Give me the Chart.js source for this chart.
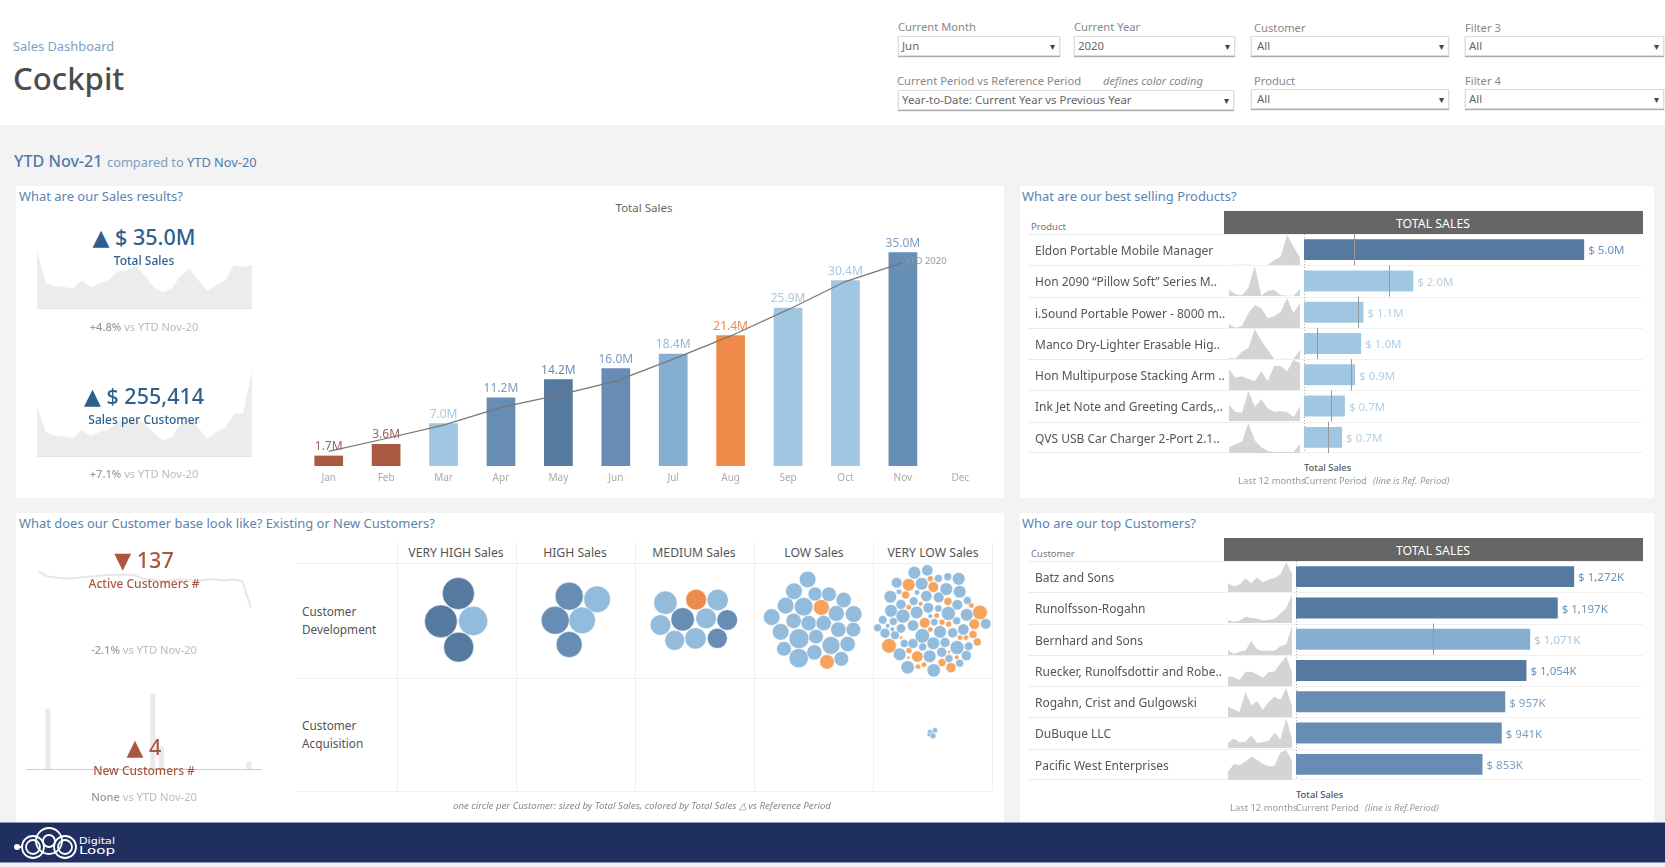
<!DOCTYPE html>
<html>
<head>
<meta charset="utf-8">
<title>Cockpit</title>
<script src="https://cdn.jsdelivr.net/npm/chart.js@4"></script>
<style>
    html, body { margin: 0; padding: 0; }
    body { position: relative; width: 1665px; height: 867px; overflow: hidden; background: #f3f3f3; font-family: "Noto Sans", sans-serif; color: #666; }
    .box { position: absolute; background: #fff; }
    .t { position: absolute; white-space: nowrap; transform: translateY(calc(-50% - 1px)); z-index: 2; }
    .c { transform: translate(-50%, calc(-50% - 1px)); }
    .sel { position: absolute; height: 20px; box-sizing: border-box; background: #fff; border: 1px solid #ddd; box-shadow: 0 1px 1px #aaa; font-size: 11.4px; line-height: 18px; padding-left: 3px; color: #666; }
    .sel::after { content: "\25BE"; position: absolute; right: 4px; top: 0; font-size: 10px; color: #444; }
    .flt { font-size: 11.2px; color: #888; }
    .h2 { font-size: 12.95px; color: #5b84ad; }
    .kpi { font-size: 21.5px; font-weight: 500; }
    .kpi span { font-family: "DejaVu Sans"; font-size: 22px; }
    .blue { color: #2f5f8f; }
    .red { color: #a9573f; }
    .sub { font-size: 12px; font-weight: 500; }
    .cmp { font-size: 11.1px; color: #bbb; }
    .cmp b { font-weight: 500; color: #999; }
    .colh { font-size: 12.2px; color: #555; }
    .rowh { font-size: 11.8px; color: #555; }
    .grid { position: absolute; background: #f0f0f0; }
    canvas { position: absolute; display: block; }
    .note { font-size: 9.4px; color: #999; }
    .cur { font-size: 9.1px; }
    .ttl { font-size: 12.3px; color: #fff; }
</style>
</head>
<body>

<!-- header -->
<div class="box" style="left:0;top:0;width:1665px;height:125px"></div>
<div class="t" style="left:13px;top:47px;font-size:12.9px;color:#7d9fbf">Sales Dashboard</div>
<div class="t" style="left:13px;top:79px;font-size:31.2px;font-weight:500;color:#4d4d4d">Cockpit</div>

<div class="t flt" style="left:898px;top:27px">Current Month</div>
<div class="sel" style="left:898px;top:36px;width:162px">Jun</div>
<div class="t flt" style="left:1074px;top:27px">Current Year</div>
<div class="sel" style="left:1074px;top:36px;width:161px">2020</div>
<div class="t flt" style="left:1254px;top:28px">Customer</div>
<div class="sel" style="left:1251px;top:36px;width:198px;padding-left:5px">All</div>
<div class="t flt" style="left:1465px;top:28px">Filter 3</div>
<div class="sel" style="left:1465px;top:36px;width:199px">All</div>
<div class="t flt" style="left:897px;top:81px">Current Period vs Reference Period</div>
<div class="t flt" style="left:1103px;top:81px"><i>defines color coding</i></div>
<div class="sel" style="left:898px;top:90px;width:336px">Year-to-Date: Current Year vs Previous Year</div>
<div class="t flt" style="left:1254px;top:81px">Product</div>
<div class="sel" style="left:1251px;top:89px;width:198px;padding-left:5px">All</div>
<div class="t flt" style="left:1465px;top:81px">Filter 4</div>
<div class="sel" style="left:1465px;top:89px;width:199px">All</div>

<div class="t" style="left:14px;top:162px;font-size:16.1px;font-weight:500;color:#4f7cac">YTD Nov-21</div>
<div class="t" style="left:107px;top:163px;font-size:12.8px;color:#7d9fbf">compared to <span style="color:#4f7cac">YTD Nov-20</span></div>

<!-- panels -->
<div class="box" style="left:16px;top:186px;width:988px;height:312px"></div>
<div class="box" style="left:1020px;top:186px;width:634px;height:312px"></div>
<div class="box" style="left:16px;top:513px;width:988px;height:309px"></div>
<div class="box" style="left:1020px;top:513px;width:634px;height:309px"></div>

<div class="t h2" style="left:19px;top:197px">What are our Sales results?</div>
<div class="t h2" style="left:1022px;top:197px">What are our best selling Products?</div>
<div class="t h2" style="left:19px;top:524px">What does our Customer base look like? Existing or New Customers?</div>
<div class="t h2" style="left:1022px;top:524px">Who are our top Customers?</div>

<!-- KPI column -->
<div class="t c kpi blue" style="left:144px;top:237px"><span>&#9650;</span> $ 35.0M</div>
<div class="t c sub blue" style="left:144px;top:261px">Total Sales</div>
<div class="t c cmp" style="left:144px;top:327px"><b>+4.8%</b> vs YTD Nov-20</div>
<div class="t c kpi blue" style="left:144px;top:396px"><span>&#9650;</span> $ 255,414</div>
<div class="t c sub blue" style="left:144px;top:420px">Sales per Customer</div>
<div class="t c cmp" style="left:144px;top:474px"><b>+7.1%</b> vs YTD Nov-20</div>
<div class="t c kpi red" style="left:144px;top:560px"><span>&#9660;</span> 137</div>
<div class="t c sub red" style="left:144px;top:584px">Active Customers #</div>
<div class="t c cmp" style="left:144px;top:650px"><b>-2.1%</b> vs YTD Nov-20</div>
<div class="t c kpi red" style="left:144px;top:747px"><span>&#9650;</span> 4</div>
<div class="t c sub red" style="left:144px;top:771px">New Customers #</div>
<div class="t c cmp" style="left:144px;top:797px"><b>None</b> vs YTD Nov-20</div>

<div class="t c" style="left:644px;top:208px;font-size:11.5px;color:#666">Total Sales</div>

<!-- bar table headers -->
<div class="box" style="left:1224px;top:211px;width:419px;height:23px;background:#666"></div>
<div class="t c ttl" style="left:1433px;top:224px">TOTAL SALES</div>
<div class="t" style="left:1031px;top:227px;font-size:9.5px;color:#777">Product</div>
<div class="box" style="left:1224px;top:538px;width:419px;height:23px;background:#666"></div>
<div class="t c ttl" style="left:1433px;top:551px">TOTAL SALES</div>
<div class="t" style="left:1031px;top:554px;font-size:9.5px;color:#777">Customer</div>

<div class="t note" style="left:1304px;top:468px;font-weight:500;color:#555">Total Sales</div>
<div class="t note" style="left:1238px;top:481px">Last 12 months</div>
<div class="t note cur" style="left:1304px;top:481px">Current Period</div>
<div class="t note" style="left:1373px;top:481px"><i>(line is Ref. Period)</i></div>
<div class="t note" style="left:1296px;top:795px;font-weight:500;color:#555">Total Sales</div>
<div class="t note" style="left:1230px;top:808px">Last 12 months</div>
<div class="t note cur" style="left:1296px;top:808px">Current Period</div>
<div class="t note" style="left:1365px;top:808px"><i>(line is Ref.Period)</i></div>

<!-- customer matrix -->
<div class="grid" style="left:297px;top:563px;width:695px;height:1px"></div>
<div class="grid" style="left:297px;top:678px;width:695px;height:1px"></div>
<div class="grid" style="left:297px;top:791px;width:695px;height:1px"></div>
<div class="grid" style="left:397px;top:543px;width:1px;height:248px"></div>
<div class="grid" style="left:516px;top:543px;width:1px;height:248px"></div>
<div class="grid" style="left:635px;top:543px;width:1px;height:248px"></div>
<div class="grid" style="left:754px;top:543px;width:1px;height:248px"></div>
<div class="grid" style="left:873px;top:543px;width:1px;height:248px"></div>
<div class="grid" style="left:992px;top:543px;width:1px;height:248px"></div>
<div class="t c colh" style="left:456px;top:553px">VERY HIGH Sales</div>
<div class="t c colh" style="left:575px;top:553px">HIGH Sales</div>
<div class="t c colh" style="left:694px;top:553px">MEDIUM Sales</div>
<div class="t c colh" style="left:814px;top:553px">LOW Sales</div>
<div class="t c colh" style="left:933px;top:553px">VERY LOW Sales</div>
<div class="t rowh" style="left:302px;top:612px">Customer</div>
<div class="t rowh" style="left:302px;top:630px">Development</div>
<div class="t rowh" style="left:302px;top:726px">Customer</div>
<div class="t rowh" style="left:302px;top:744px">Acquisition</div>
<div class="t note" style="left:453px;top:806px;font-size:9.65px;color:#888"><i>one circle per Customer: sized by Total Sales, colored by Total Sales &#9651; vs Reference Period</i></div>

<!-- footer -->
<div class="box" style="left:0;top:822px;width:1665px;height:41px;background:#1f2f5f;border-top:1px solid #8b96b3;border-bottom:1px solid #8b96b3;box-sizing:border-box"></div>
<svg style="position:absolute;left:0;top:822px;z-index:2" width="130" height="41" fill="none" stroke="#fff" stroke-width="1.8">
    <circle cx="17" cy="25" r="3" fill="#fff" stroke="none"/>
    <path d="M19 25h4"/>
    <circle cx="33" cy="25" r="11"/><circle cx="33" cy="25" r="7"/>
    <circle cx="49" cy="19" r="13"/><circle cx="49" cy="19" r="6"/>
    <circle cx="65" cy="25" r="11"/><circle cx="65" cy="25" r="7"/>
    <text x="79" y="22" font-family="DejaVu Sans" font-size="8.5" fill="#fff" stroke="none" textLength="36" lengthAdjust="spacingAndGlyphs">Digital</text>
    <text x="79" y="32" font-family="DejaVu Sans" font-size="10" fill="#fff" stroke="none" textLength="36" lengthAdjust="spacingAndGlyphs">Loop</text>
</svg>

<script>
// Monthly sales chart
const months = ['Jan', 'Feb', 'Mar', 'Apr', 'May', 'Jun', 'Jul', 'Aug', 'Sep', 'Oct', 'Nov', 'Dec'];
const salesYtd = [1.7, 3.6, 7.0, 11.2, 14.2, 16.0, 18.4, 21.4, 25.9, 30.4, 35.0, null];
const salesYtdPrev = [2.4, 4.5, 6.7, 9.6, 11.6, 13.9, 17.5, 21.3, 25.6, 30.2, 33.3, null];
const salesColors = ['#ab5a42', '#ab5a42', '#a0c7e1', '#678db5', '#55799f', '#678db5', '#86aed1', '#ef8b4a', '#a0c7e1', '#a0c7e1', '#678eb5', '#ccc'];
const salesLabelColors = ['#94675a', '#94675a', '#a8c8df', '#7c9dc0', '#6b8fb5', '#7c9dc0', '#94b8d6', '#ef8b4a', '#a8c8df', '#a8c8df', '#7c9dc0', '#ccc'];

// KPI trends
const totalSalesTrend = [175, 76, 67, 65, 59, 85, 64, 76, 86, 113, 115, 130, 100, 64, 48, 57, 98, 121, 86, 51, 71, 84, 131, 127, 133];
const salesPerCustomerTrend = [148, 72, 62, 59, 54, 78, 61, 73, 79, 103, 105, 107, 100, 70, 48, 55, 97, 120, 85, 52, 72, 87, 128, 129, 257];
const activeCustomersTrend = [117, 103, 99, 96, 97, 100, 102, 104, 106, 107, 107, 104, 94, 93, 88, 91, 93, 91, 89, 93, 93, 90, 93, 88, 10];
const newCustomersTrend = [0, 0, 8, 0, 0, 0, 0, 0, 0, 0, 0, 0, 0, 0, 10, 3, 0, 0, 0, 0, 0, 0, 0, 0, 0, 1, 0];

// Best selling products
const products = ['Eldon Portable Mobile Manager', 'Hon 2090 \u201CPillow Soft\u201D Series M..', 'i.Sound Portable Power - 8000 m..', 'Manco Dry-Lighter Erasable Hig..', 'Hon Multipurpose Stacking Arm ..', 'Ink Jet Note and Greeting Cards,..', 'QVS USB Car Charger 2-Port 2.1..'];
const productSales = [5.0, 1.95, 1.06, 1.02, 0.91, 0.73, 0.68];
const productRef = [0.89, 1.51, 0.96, 0.24, 0.83, 0.49, 0.42];
const productLabels = ['$ 5.0M', '$ 2.0M', '$ 1.1M', '$ 1.0M', '$ 0.9M', '$ 0.7M', '$ 0.7M'];
const productColors = ['#55799f', '#a0c7e1', '#a0c7e1', '#a0c7e1', '#a0c7e1', '#a0c7e1', '#a0c7e1'];
const productLabelColors = ['#6a93bd', '#b5cfe3', '#b5cfe3', '#b5cfe3', '#b5cfe3', '#b5cfe3', '#b5cfe3'];
const productTrends = [
    [0, 1, 1, 1, 0, 0, 0, 15, 25, 90, 55, 22],
    [19, 5, 2, 25, 90, 1, 15, 19, 2, 1, 1, 21],
    [12, 1, 6, 44, 69, 59, 29, 35, 49, 90, 44, 75],
    [4, 1, 22, 33, 90, 55, 28, 0, 1, 1, 1, 27],
    [62, 37, 41, 33, 27, 56, 26, 72, 72, 56, 90, 81],
    [48, 28, 25, 89, 43, 65, 38, 28, 30, 27, 11, 44],
    [17, 26, 34, 90, 38, 17, 6, 2, 2, 4, 2, 27]
];

// Top customers
const customers = ['Batz and Sons', 'Runolfsson-Rogahn', 'Bernhard and Sons', 'Ruecker, Runolfsdottir and Robe..', 'Rogahn, Crist and Gulgowski', 'DuBuque LLC', 'Pacific West Enterprises'];
const customerSales = [1272, 1197, 1071, 1054, 957, 941, 853];
const customerRef = [null, null, 625, null, null, null, null];
const customerLabels = ['$ 1,272K', '$ 1,197K', '$ 1,071K', '$ 1,054K', '$ 957K', '$ 941K', '$ 853K'];
const customerColors = ['#55799f', '#55799f', '#86aed1', '#55799f', '#678db5', '#678db5', '#678db5'];
const customerLabelColors = ['#6a93bd', '#6a93bd', '#a8c8df', '#6a93bd', '#7c9dc0', '#7c9dc0', '#7c9dc0'];
const customerTrends = [
    [27, 18, 23, 42, 27, 45, 30, 38, 43, 54, 91, 57],
    [9, 4, 7, 19, 16, 14, 8, 10, 13, 29, 46, 86],
    [15, 4, 10, 14, 43, 17, 13, 13, 13, 27, 32, 89],
    [30, 27, 19, 44, 44, 36, 25, 42, 45, 69, 91, 43],
    [32, 23, 16, 77, 36, 48, 22, 46, 63, 53, 89, 33],
    [16, 29, 18, 19, 38, 15, 18, 22, 47, 26, 91, 28],
    [25, 48, 46, 57, 72, 62, 50, 42, 44, 84, 92, 58]
];

// Customer circles as [x, y, size]
const veryHighDark = [[488, 176, 48], [436, 259, 49], [489, 336, 45]];
const veryHighLight = [[532, 258, 44]];
const highMid = [[820, 184, 42], [778, 256, 42], [820, 328, 39]];
const highLight = [[904, 193, 40], [859, 256, 40]];
const mediumLight = [[75, 68, 35], [60, 135, 31], [198, 115, 31], [103, 181, 30], [166, 175, 32], [233, 60, 32]];
const mediumMid = [[127, 118, 35], [262, 120, 31], [232, 175, 30]];
const mediumOrange = [[168, 59, 31]];
const lowBlue = [[204, 119, 25], [163, 154, 25], [226, 162, 21], [268, 163, 22], [312, 180, 23], [138, 197, 25], [192, 200, 28], [290, 220, 24], [342, 222, 25], [96, 231, 25], [162, 242, 23], [207, 249, 23], [252, 249, 23], [296, 268, 23], [341, 268, 22], [123, 275, 25], [178, 295, 30], [229, 289, 22], [274, 315, 27], [324, 311, 23], [133, 325, 22], [224, 336, 23], [177, 353, 29], [305, 355, 22]];
const lowOrange = [[245, 202, 24], [262, 364, 22]];
const veryLowBlue = [[524, 98, 19], [563, 91, 17], [596, 115, 12], [624, 110, 12], [657, 116, 19], [471, 128, 16], [546, 131, 19], [620, 147, 19], [660, 155, 19], [452, 170, 19], [478, 155, 8], [532, 157, 8], [560, 168, 17], [597, 172, 16], [522, 183, 13], [484, 193, 15], [653, 194, 16], [683, 181, 12], [454, 212, 19], [566, 203, 16], [596, 205, 11], [531, 217, 19], [626, 220, 21], [681, 224, 19], [490, 228, 21], [429, 239, 13], [461, 244, 12], [572, 228, 7], [584, 246, 11], [651, 242, 12], [414, 263, 12], [444, 257, 7], [458, 267, 7], [484, 265, 14], [520, 256, 17], [601, 275, 19], [639, 278, 15], [671, 268, 17], [738, 251, 16], [436, 279, 15], [466, 285, 13], [548, 287, 22], [494, 310, 12], [520, 310, 15], [616, 307, 15], [581, 309, 19], [549, 320, 12], [652, 322, 21], [687, 318, 13], [606, 336, 15], [480, 342, 19], [570, 348, 19], [628, 355, 12], [680, 346, 15], [660, 369, 12], [504, 381, 20], [582, 390, 20]];
const veryLowOrange = [[507, 134, 19], [572, 116, 9], [581, 141, 16], [498, 165, 12], [625, 184, 12], [543, 191, 7], [507, 201, 8], [695, 196, 8], [721, 217, 22], [555, 248, 16], [591, 226, 8], [607, 246, 9], [627, 252, 9], [704, 252, 16], [572, 268, 8], [700, 283, 12], [661, 292, 8], [679, 292, 8], [713, 305, 12], [484, 292, 5], [448, 317, 22], [508, 331, 9], [628, 335, 5], [506, 352, 5], [533, 349, 17], [651, 351, 7], [607, 367, 12], [535, 379, 8], [553, 373, 8], [634, 382, 15]];
const acquisitionBlue = [[171, 163, 8], [186, 157, 8], [180, 174, 9], [168, 171, 6]];

Chart.defaults.font.family = '"Noto Sans", sans-serif';
Chart.defaults.animation = false;
Chart.defaults.responsive = false;
Chart.defaults.layout.autoPadding = false;
Chart.defaults.plugins.legend.display = false;
Chart.defaults.plugins.tooltip.enabled = false;

function addCanvas(x, y, w, h) {
    const canvas = document.createElement('canvas');
    canvas.width = w;
    canvas.height = h;
    canvas.style.cssText = 'left:' + x + 'px;top:' + y + 'px;width:' + w + 'px;height:' + h + 'px;z-index:1';
    document.body.appendChild(canvas);
    return canvas;
}

// Area or plain sparkline filling its whole canvas
function addSparkline(x, y, w, h, values, color, filled, yMax) {
    const canvas = addCanvas(x, y, w, h);
    new Chart(canvas, {
        type: 'line',
        data: {
            labels: values.map((v, i) => i),
            datasets: [{
                data: values,
                borderColor: filled ? color : '#e6e6e6',
                backgroundColor: color,
                borderWidth: filled ? 0 : 2,
                pointRadius: 0,
                tension: 0,
                fill: filled
            }]
        },
        options: {
            scales: {
                x: { display: false },
                y: { display: false, min: 0, max: yMax }
            }
        }
    });
    return canvas;
}

// Value labels after or above the bars
function barLabels(texts, colors, horizontal) {
    return {
        id: 'barLabels',
        afterDatasetsDraw(chart) {
            const ctx = chart.ctx;
            const meta = chart.getDatasetMeta(0);
            ctx.save();
            ctx.font = horizontal ? '11.5px "Noto Sans"' : '12px "Noto Sans"';
            meta.data.forEach((bar, i) => {
                if (!texts[i]) return;
                ctx.fillStyle = colors[i];
                if (horizontal) {
                    ctx.textAlign = 'left';
                    ctx.textBaseline = 'middle';
                    ctx.fillText(texts[i], bar.x + 4, bar.y + 1.5);
                } else {
                    ctx.textAlign = 'center';
                    ctx.textBaseline = 'bottom';
                    ctx.fillText(texts[i], bar.x, bar.y - 3);
                }
            });
            ctx.restore();
        }
    };
}

// Row separators, row names and reference period ticks of the bar tables
function tableLines(refValues, splitX) {
    return {
        id: 'tableLines',
        beforeDatasetsDraw(chart) {
            const ctx = chart.ctx;
            const area = chart.chartArea;
            const rowH = area.height / refValues.length;
            ctx.save();
            ctx.lineWidth = 1;
            for (let i = 0; i <= refValues.length; i++) {
                const y = Math.round(area.top + i * rowH) + (i === refValues.length ? -0.5 : 0.5);
                ctx.setLineDash([1, 1]);
                ctx.strokeStyle = '#d8d8d8';
                ctx.beginPath();
                ctx.moveTo(0, y);
                ctx.lineTo(splitX, y);
                ctx.stroke();
                ctx.setLineDash([]);
                ctx.strokeStyle = '#f0f0f0';
                ctx.beginPath();
                ctx.moveTo(splitX, y);
                ctx.lineTo(area.right, y);
                ctx.stroke();
            }
            ctx.setLineDash([1, 2]);
            ctx.strokeStyle = '#aaa';
            ctx.beginPath();
            ctx.moveTo(area.left + 0.5, area.top);
            ctx.lineTo(area.left + 0.5, area.bottom);
            ctx.stroke();
            ctx.setLineDash([]);
            ctx.font = '12px "Noto Sans"';
            ctx.fillStyle = '#555';
            ctx.textAlign = 'left';
            ctx.textBaseline = 'middle';
            chart.data.labels.forEach((name, i) => {
                ctx.fillText(name, 6, chart.scales.y.getPixelForValue(i) + 2);
            });
            ctx.restore();
        },
        afterDatasetsDraw(chart) {
            const ctx = chart.ctx;
            const area = chart.chartArea;
            const rowH = area.height / refValues.length;
            ctx.save();
            ctx.lineWidth = 1;
            ctx.strokeStyle = '#999';
            refValues.forEach((v, i) => {
                if (v === null) return;
                const x = Math.round(chart.scales.x.getPixelForValue(v)) + 0.5;
                ctx.beginPath();
                ctx.moveTo(x, area.top + i * rowH);
                ctx.lineTo(x, area.top + (i + 1) * rowH);
                ctx.stroke();
            });
            ctx.restore();
        }
    };
}

function addBarTable(x, y, w, h, axisW, xMax, names, values, colors, refValues, texts, textColors, splitX) {
    const canvas = addCanvas(x, y, w, h);
    new Chart(canvas, {
        type: 'bar',
        data: {
            labels: names,
            datasets: [{
                data: values,
                backgroundColor: colors,
                categoryPercentage: 1,
                barPercentage: 0.67
            }]
        },
        options: {
            indexAxis: 'y',
            layout: { padding: { left: 6 } },
            scales: {
                x: { display: false, min: 0, max: xMax },
                y: {
                    offset: true,
                    grid: { display: false, drawTicks: false },
                    border: { display: false },
                    ticks: { display: false },
                    afterFit(scale) { scale.width = axisW; }
                }
            }
        },
        plugins: [tableLines(refValues, splitX), barLabels(texts, textColors, true)]
    });
}

function addBubbles(x, y, w, h, xRange, yRange, groups) {
    const canvas = addCanvas(x, y, w, h);
    new Chart(canvas, {
        type: 'bubble',
        data: {
            datasets: groups.map(g => ({
                data: g.points.map(p => ({ x: p[0], y: p[1], r: p[2] / 3 })),
                backgroundColor: g.color,
                borderColor: 'rgba(255,255,255,0.5)',
                borderWidth: 1,
                clip: false
            }))
        },
        options: {
            scales: {
                x: { display: false, min: xRange[0], max: xRange[1] },
                y: { display: false, min: yRange[0], max: yRange[1], reverse: true }
            }
        }
    });
}

function initCharts() {
    // KPI sparklines
    addSparkline(37, 251, 215, 58, totalSalesTrend, '#ececec', true, 175).style.borderBottom = '1px solid #e2e2e2';
    addSparkline(37, 371, 215, 86, salesPerCustomerTrend, '#ececec', true, 257).style.borderBottom = '1px solid #e2e2e2';
    addSparkline(38, 567, 213, 44, activeCustomersTrend, '#e6e6e6', false, 130);

    new Chart(addCanvas(26, 690, 236, 80), {
        type: 'bar',
        data: {
            labels: newCustomersTrend.map((v, i) => i),
            datasets: [{ data: newCustomersTrend, backgroundColor: '#eaeaea', categoryPercentage: 1, barPercentage: 0.57 }]
        },
        options: {
            scales: {
                x: {
                    offset: true,
                    grid: { display: false, drawTicks: false },
                    border: { color: '#ccc' },
                    ticks: { display: false },
                    afterFit(scale) { scale.height = 1; }
                },
                y: { display: false, min: 0, max: 10.5 }
            }
        }
    });

    // Total Sales by month with the previous year as a line
    new Chart(addCanvas(300, 226, 689, 264), {
        type: 'bar',
        data: {
            labels: months,
            datasets: [
                {
                    data: salesYtd,
                    backgroundColor: salesColors,
                    categoryPercentage: 1,
                    barPercentage: 0.5,
                    order: 1
                },
                {
                    type: 'line',
                    data: salesYtdPrev,
                    borderColor: '#777',
                    borderWidth: 1.2,
                    pointRadius: 0,
                    tension: 0,
                    order: 0
                }
            ]
        },
        options: {
            scales: {
                x: {
                    offset: true,
                    grid: { display: false, drawTicks: false },
                    border: { display: false },
                    ticks: { color: '#aaa', font: { size: 10 }, padding: 6, maxRotation: 0 },
                    afterFit(scale) {
                        scale.height = 24;
                        scale.paddingLeft = 0;
                        scale.paddingRight = 0;
                    }
                },
                y: { display: false, min: 0, max: 39.3 }
            }
        },
        plugins: [
            barLabels(salesYtd.map(v => v === null ? null : v.toFixed(1) + 'M'), salesLabelColors, false),
            {
                id: 'lineEndLabel',
                afterDatasetsDraw(chart) {
                    const end = chart.getDatasetMeta(1).data[10];
                    const ctx = chart.ctx;
                    ctx.save();
                    ctx.font = '9.5px "Noto Sans"';
                    ctx.fillStyle = '#999';
                    ctx.textBaseline = 'middle';
                    ctx.fillText('YTD 2020', end.x + 2, end.y - 1);
                    ctx.restore();
                }
            }
        ]
    });

    // Bar tables
    addBarTable(1029, 234, 614, 219, 269, 6.05, products, productSales, productColors, productRef, productLabels, productLabelColors, 197);
    addBarTable(1029, 561, 614, 219, 261, 1587, customers, customerSales, customerColors, customerRef, customerLabels, customerLabelColors, 197);

    productTrends.forEach((trend, i) => {
        addSparkline(1229, Math.round(234 + i * 31.29) + 1, 71, 30, trend, '#d4d4d4', true, 90);
    });
    customerTrends.forEach((trend, i) => {
        addSparkline(1228, Math.round(561 + i * 31.29) + 1, 64, 30, trend, '#d4d4d4', true, 92);
    });

    // Customer circles, one chart per matrix cell
    const blue = '#93bcdc';
    const orange = '#f6a35e';
    addBubbles(397, 563, 119, 115, [305, 660], [85, 428], [
        { points: veryHighDark, color: '#55799f' }, { points: veryHighLight, color: blue }
    ]);
    addBubbles(516, 563, 119, 115, [660, 1018], [85, 428], [
        { points: highMid, color: '#678db5' }, { points: highLight, color: blue }
    ]);
    addBubbles(635, 563, 119, 115, [-17, 343], [-51, 294], [
        { points: mediumLight, color: blue }, { points: mediumMid, color: '#678db5' }, { points: mediumOrange, color: '#ef8b4a' }
    ]);
    addBubbles(754, 563, 119, 115, [43, 400], [70, 412], [
        { points: lowBlue, color: blue }, { points: lowOrange, color: orange }
    ]);
    addBubbles(873, 563, 119, 115, [400, 757], [69, 413], [
        { points: veryLowBlue, color: blue }, { points: veryLowOrange, color: orange }
    ]);
    addBubbles(873, 678, 119, 113, [0, 357], [0, 340], [
        { points: acquisitionBlue, color: blue }
    ]);
}

document.addEventListener('DOMContentLoaded', initCharts);
</script>
</body>
</html>
